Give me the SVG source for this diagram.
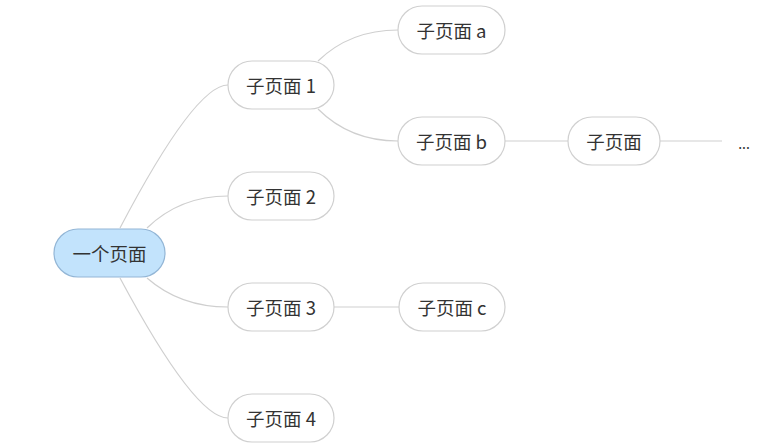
<svg xmlns="http://www.w3.org/2000/svg" width="765" height="448" viewBox="0 0 765 448">
<style>
.n rect{fill:#fff;stroke:#d0d0d0;stroke-width:1.2}
.root rect{fill:#c2e3fc;stroke:#93b6d6;stroke-width:1.2}
text{font-family:"Microsoft YaHei","Noto Sans CJK SC","Noto Sans",sans-serif;font-size:18.5px;fill:#333;text-anchor:middle;dominant-baseline:central}
.c path{fill:none;stroke:#cfcfcf;stroke-width:1.2}
</style>
<rect width="765" height="448" fill="#fff"/>
<g class="c" id="connectors">
<path d="M120,228 Q195,85 228,85"/>
<path d="M147,228 Q180,196 228,196"/>
<path d="M147,278 Q180,307 228,307"/>
<path d="M120,278 Q195,418 228,418"/>
<path d="M318,61 Q350,30 398,30"/>
<path d="M318,109 Q350,141 398,141"/>
<path d="M505,141 L568,141"/>
<path d="M334,307 L399,307"/>
<path d="M660,141 L722,141"/>
</g>
<g id="root" class="root"><rect x="54" y="229" width="111" height="48" rx="24"/><text x="109.5" y="253">一个页面</text></g>
<g id="n1" class="n"><rect x="228" y="61" width="106" height="48" rx="24"/><text x="281" y="85">子页面 1</text></g>
<g id="n2" class="n"><rect x="228" y="172" width="106" height="48" rx="24"/><text x="281" y="196">子页面 2</text></g>
<g id="n3" class="n"><rect x="228" y="283" width="106" height="48" rx="24"/><text x="281" y="307">子页面 3</text></g>
<g id="n4" class="n"><rect x="228" y="394" width="106" height="48" rx="24"/><text x="281" y="418">子页面 4</text></g>
<g id="na" class="n"><rect x="398" y="6" width="107" height="48" rx="24"/><text x="451.5" y="30">子页面 a</text></g>
<g id="nb" class="n"><rect x="398" y="117" width="107" height="48" rx="24"/><text x="451.5" y="141">子页面 b</text></g>
<g id="nc" class="n"><rect x="399" y="283" width="106" height="48" rx="24"/><text x="452" y="307">子页面 c</text></g>
<g id="nd" class="n"><rect x="568" y="117" width="92" height="48" rx="24"/><text x="614" y="141">子页面</text></g>
<g id="more"><text x="744" y="143" style="font-size:14px">...</text></g>
</svg>
